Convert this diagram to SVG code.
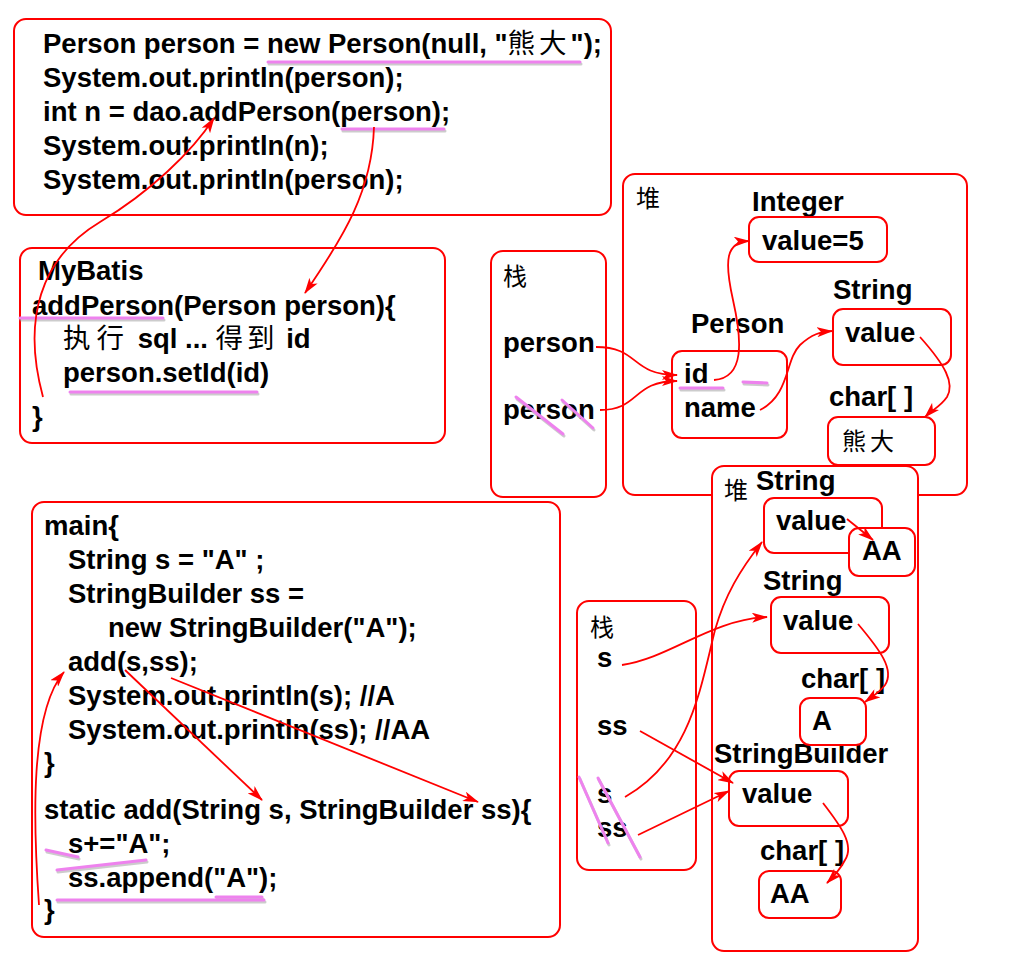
<svg xmlns="http://www.w3.org/2000/svg" width="1024" height="966" viewBox="0 0 1024 966">
<defs>
<style>
.box{fill:#fff;stroke:#ff0000;stroke-width:2}
.t{font-family:"Liberation Sans",Arial,"Noto Sans CJK SC",sans-serif;font-weight:bold;font-size:27.5px;fill:#000}
.c{font-family:"Noto Sans CJK SC","Liberation Sans",sans-serif;font-weight:normal;font-size:24px;fill:#000}
.cn{font-family:"Noto Sans CJK SC",sans-serif;font-weight:normal}
.a{fill:none;stroke:#ff0000;stroke-width:1.8}
.pk{stroke:#ee82ee;stroke-width:3;stroke-linecap:round;fill:none}
.sh{stroke:#999;stroke-width:3;stroke-linecap:round;fill:none;opacity:0.5}
</style>
<marker id="ah" viewBox="0 0 16 10" refX="15" refY="5" markerWidth="16" markerHeight="10" orient="auto" markerUnits="userSpaceOnUse">
<path d="M0,0 L16,5 L0,10 L4,5 z" fill="#ff0000"/>
</marker>
</defs>
<rect width="1024" height="966" fill="#fff"/>

<g id="code-main">
<rect class="box" x="14" y="19" width="597" height="196" rx="12"/>
<text class="t" x="43" y="53">Person person = new Person(null, "<tspan class="cn" letter-spacing="4">熊大</tspan>");</text>
<text class="t" x="43" y="87">System.out.println(person);</text>
<text class="t" x="43" y="121">int n = dao.addPerson(person);</text>
<text class="t" x="43" y="155">System.out.println(n);</text>
<text class="t" x="43" y="189">System.out.println(person);</text>
</g>

<g id="mybatis">
<rect class="box" x="20" y="248" width="425" height="195" rx="12"/>
<text class="t" x="38" y="280">MyBatis</text>
<text class="t" x="32" y="315">addPerson(Person person){</text>
<text class="t" x="63" y="348"><tspan class="cn" letter-spacing="6">执行</tspan> sql ... <tspan class="cn" letter-spacing="4">得到</tspan> id</text>
<text class="t" x="63" y="382">person.setId(id)</text>
<text class="t" x="32" y="426">}</text>
</g>

<g id="stack1">
<rect class="box" x="491" y="251" width="115" height="246" rx="12"/>
<text class="c" x="503" y="285">栈</text>
<text class="t" x="503" y="352">person</text>
<text class="t" x="503" y="419">person</text>
</g>

<g id="heap1">
<rect class="box" x="623" y="174" width="344" height="321" rx="12"/>
<text class="c" x="636" y="207">堆</text>
<text class="t" x="752" y="211">Integer</text>
<text class="t" x="691" y="333">Person</text>
<text class="t" x="833" y="299">String</text>
<text class="t" x="829" y="406">char[ ]</text>
</g>
<g id="integer-box">
<rect class="box" x="749" y="217" width="138" height="45" rx="10"/>
<text class="t" x="762" y="250">value=5</text>
</g>
<g id="person-box">
<rect class="box" x="672" y="351" width="115" height="87" rx="10"/>
<text class="t" x="684" y="383">id</text>
<text class="t" x="684" y="417">name</text>
</g>
<g id="string-box1">
<rect class="box" x="833" y="309" width="118" height="56" rx="10"/>
<text class="t" x="845" y="342">value</text>
</g>
<g id="chars-box1">
<rect class="box" x="828" y="417" width="107" height="48" rx="10"/>
<text class="c" x="842" y="450" font-size="26" letter-spacing="4">熊大</text>
</g>

<g id="code-add">
<rect class="box" x="32" y="502" width="528" height="435" rx="12"/>
<text class="t" x="44" y="535">main{</text>
<text class="t" x="68" y="569">String s = "A" ;</text>
<text class="t" x="68" y="603">StringBuilder ss =</text>
<text class="t" x="108" y="637">new StringBuilder("A");</text>
<text class="t" x="68" y="671">add(s,ss);</text>
<text class="t" x="68" y="705">System.out.println(s); //A</text>
<text class="t" x="68" y="739">System.out.println(ss); //AA</text>
<text class="t" x="44" y="772">}</text>
<text class="t" x="44" y="819">static add(String s, StringBuilder ss){</text>
<text class="t" x="68" y="853">s+="A";</text>
<text class="t" x="68" y="887">ss.append("A");</text>
<text class="t" x="44" y="919">}</text>
</g>

<g id="stack2">
<rect class="box" x="577" y="601" width="119" height="269" rx="12"/>
<text class="c" x="590" y="636">栈</text>
<text class="t" x="597" y="667">s</text>
<text class="t" x="597" y="735">ss</text>
<text class="t" x="597" y="803">s</text>
<text class="t" x="597" y="837">ss</text>
</g>

<g id="heap2">
<rect class="box" x="712" y="466" width="206" height="485" rx="12"/>
<text class="c" x="724" y="499">堆</text>
<text class="t" x="756" y="490">String</text>
<text class="t" x="763" y="590">String</text>
<text class="t" x="801" y="688">char[ ]</text>
<text class="t" x="714" y="763">StringBuilder</text>
<text class="t" x="760" y="860">char[ ]</text>
</g>
<g id="string-box2">
<rect class="box" x="764" y="498" width="118" height="55" rx="10"/>
<text class="t" x="776" y="530">value</text>
</g>
<g id="aa-box1">
<rect class="box" x="849" y="528" width="66" height="48" rx="10"/>
<text class="t" x="862" y="560">AA</text>
</g>
<g id="string-box3">
<rect class="box" x="771" y="597" width="118" height="56" rx="10"/>
<text class="t" x="783" y="630">value</text>
</g>
<g id="a-box">
<rect class="box" x="800" y="698" width="66" height="47" rx="10"/>
<text class="t" x="812" y="730">A</text>
</g>
<g id="sb-box">
<rect class="box" x="729" y="771" width="119" height="55" rx="10"/>
<text class="t" x="742" y="803">value</text>
</g>
<g id="aa-box2">
<rect class="box" x="759" y="871" width="82" height="47" rx="10"/>
<text class="t" x="770" y="903">AA</text>
</g>

<g id="marks">
<g transform="translate(1,2)">
<line class="sh" x1="268" y1="62" x2="580" y2="62"/>
<line class="sh" x1="342" y1="129" x2="444" y2="129"/>
<line class="sh" x1="20" y1="318" x2="163" y2="318"/>
<line class="sh" x1="70" y1="392" x2="257" y2="392"/>
<line class="sh" x1="680" y1="388" x2="723" y2="388"/>
<line class="sh" x1="743" y1="382" x2="767" y2="383"/>
<line class="sh" x1="516" y1="397" x2="563" y2="434"/>
<line class="sh" x1="562" y1="400" x2="593" y2="428"/>
<line class="sh" x1="46" y1="850" x2="78" y2="857"/>
<line class="sh" x1="57" y1="870" x2="146" y2="860"/>
<line class="sh" x1="57" y1="900" x2="264" y2="900"/>
<line class="sh" x1="216" y1="897" x2="262" y2="897"/>
<line class="sh" x1="579" y1="777" x2="608" y2="843"/>
<line class="sh" x1="598" y1="778" x2="640" y2="857"/>
</g>
<line class="pk" x1="268" y1="62" x2="580" y2="62"/>
<line class="pk" x1="342" y1="129" x2="444" y2="129"/>
<line class="pk" x1="20" y1="318" x2="163" y2="318"/>
<line class="pk" x1="70" y1="392" x2="257" y2="392"/>
<line class="pk" x1="680" y1="388" x2="723" y2="388"/>
<line class="pk" x1="743" y1="382" x2="767" y2="383"/>
<line class="pk" x1="516" y1="397" x2="563" y2="434"/>
<line class="pk" x1="562" y1="400" x2="593" y2="428"/>
<line class="pk" x1="46" y1="850" x2="78" y2="857"/>
<line class="pk" x1="57" y1="870" x2="146" y2="860"/>
<line class="pk" x1="57" y1="900" x2="264" y2="900"/>
<line class="pk" x1="216" y1="897" x2="262" y2="897"/>
<line class="pk" x1="579" y1="777" x2="608" y2="843"/>
<line class="pk" x1="598" y1="778" x2="640" y2="857"/>
</g>

<g id="connectors">
<path class="a" marker-end="url(#ah)" d="M43,397 C22,320 40,258 100,222 C150,192 192,152 214,118"/>
<path class="a" marker-end="url(#ah)" d="M374,127 C372,190 345,235 305,293"/>
<path class="a" marker-end="url(#ah)" d="M596,347 C640,347 630,375 677,375"/>
<path class="a" marker-end="url(#ah)" d="M600,410 C640,410 632,381 677,381"/>
<path class="a" marker-end="url(#ah)" d="M714,380 C745,378 742,340 733,300 C724,260 726,242 749,241"/>
<path class="a" marker-end="url(#ah)" d="M760,410 C790,395 785,360 800,345 C812,334 820,332 832,331"/>
<path class="a" marker-end="url(#ah)" d="M920,337 C945,365 955,383 947,397 C940,407 932,410 925,417"/>
<path class="a" marker-end="url(#ah)" d="M39,905 C33,820 30,712 64,672"/>
<path class="a" marker-end="url(#ah)" d="M125,670 L262,800"/>
<path class="a" marker-end="url(#ah)" d="M171,678 L478,802"/>
<path class="a" marker-end="url(#ah)" d="M622,665 C670,658 710,620 767,617"/>
<path class="a" marker-end="url(#ah)" d="M640,731 L733,783"/>
<path class="a" marker-end="url(#ah)" d="M625,797 C690,760 700,690 715,630 C725,595 740,570 762,542"/>
<path class="a" marker-end="url(#ah)" d="M638,835 L729,791"/>
<path class="a" marker-end="url(#ah)" d="M847,519 L873,540"/>
<path class="a" marker-end="url(#ah)" d="M858,624 C880,650 895,670 885,685 C880,692 872,697 865,702"/>
<path class="a" marker-end="url(#ah)" d="M823,803 C840,825 855,845 845,860 C840,870 833,877 827,883"/>
</g>
</svg>
